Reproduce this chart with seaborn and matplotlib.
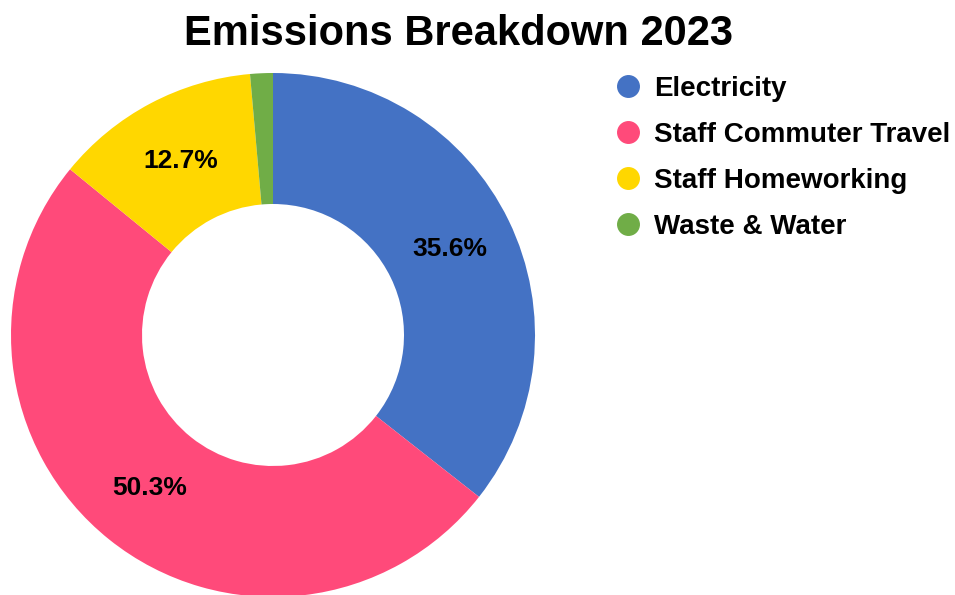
import matplotlib
matplotlib.use("Agg")
import matplotlib.pyplot as plt
from matplotlib.lines import Line2D
import seaborn as sns

sns.set_theme(style="white")
plt.rcParams['font.family'] = ['Liberation Sans', 'DejaVu Sans']
plt.rcParams['text.color'] = 'black'

# data
categories = ['Electricity', 'Staff Commuter Travel', 'Staff Homeworking', 'Waste & Water']
shares = [35.6, 50.3, 12.7, 1.4]
colors = ['#4472C4', '#FF4A7A', '#FFD700', '#70AD47']

fig = plt.figure(figsize=(9.55, 5.95), dpi=100)
ax = fig.add_axes([11 / 955, -2 / 595, 524 / 955, 524 / 595])

def fmt(p):
    return f"{p:.1f}%" if p > 5 else ""

wedges, texts, autotexts = ax.pie(
    shares, colors=colors, startangle=90, counterclock=False,
    autopct=fmt, pctdistance=0.75, radius=1.0,
    wedgeprops=dict(width=0.5, linewidth=0),
    textprops=dict(fontsize=19, fontweight='bold', color='black'))
ax.set_xlim(-1, 1)
ax.set_ylim(-1, 1)
ax.set_aspect('equal')

fig.text(458 / 955, 1 - 34 / 595, "Emissions Breakdown 2023", ha='center', va='center',
         fontsize=30, fontweight='bold', color='black')

handles = [Line2D([], [], marker='o', linestyle='', markersize=15.5,
                  markerfacecolor=c, markeredgecolor=c) for c in colors]
leg = fig.legend(handles, categories, loc='upper left',
                 bbox_to_anchor=(587 / 955, 1 - 51 / 595), frameon=False,
                 prop=dict(size=20, weight='bold'), handletextpad=0.33,
                 labelspacing=0.72, handlelength=1.17)
for t in leg.get_texts():
    t.set_color('black')

plt.savefig("out.png", dpi=100)
